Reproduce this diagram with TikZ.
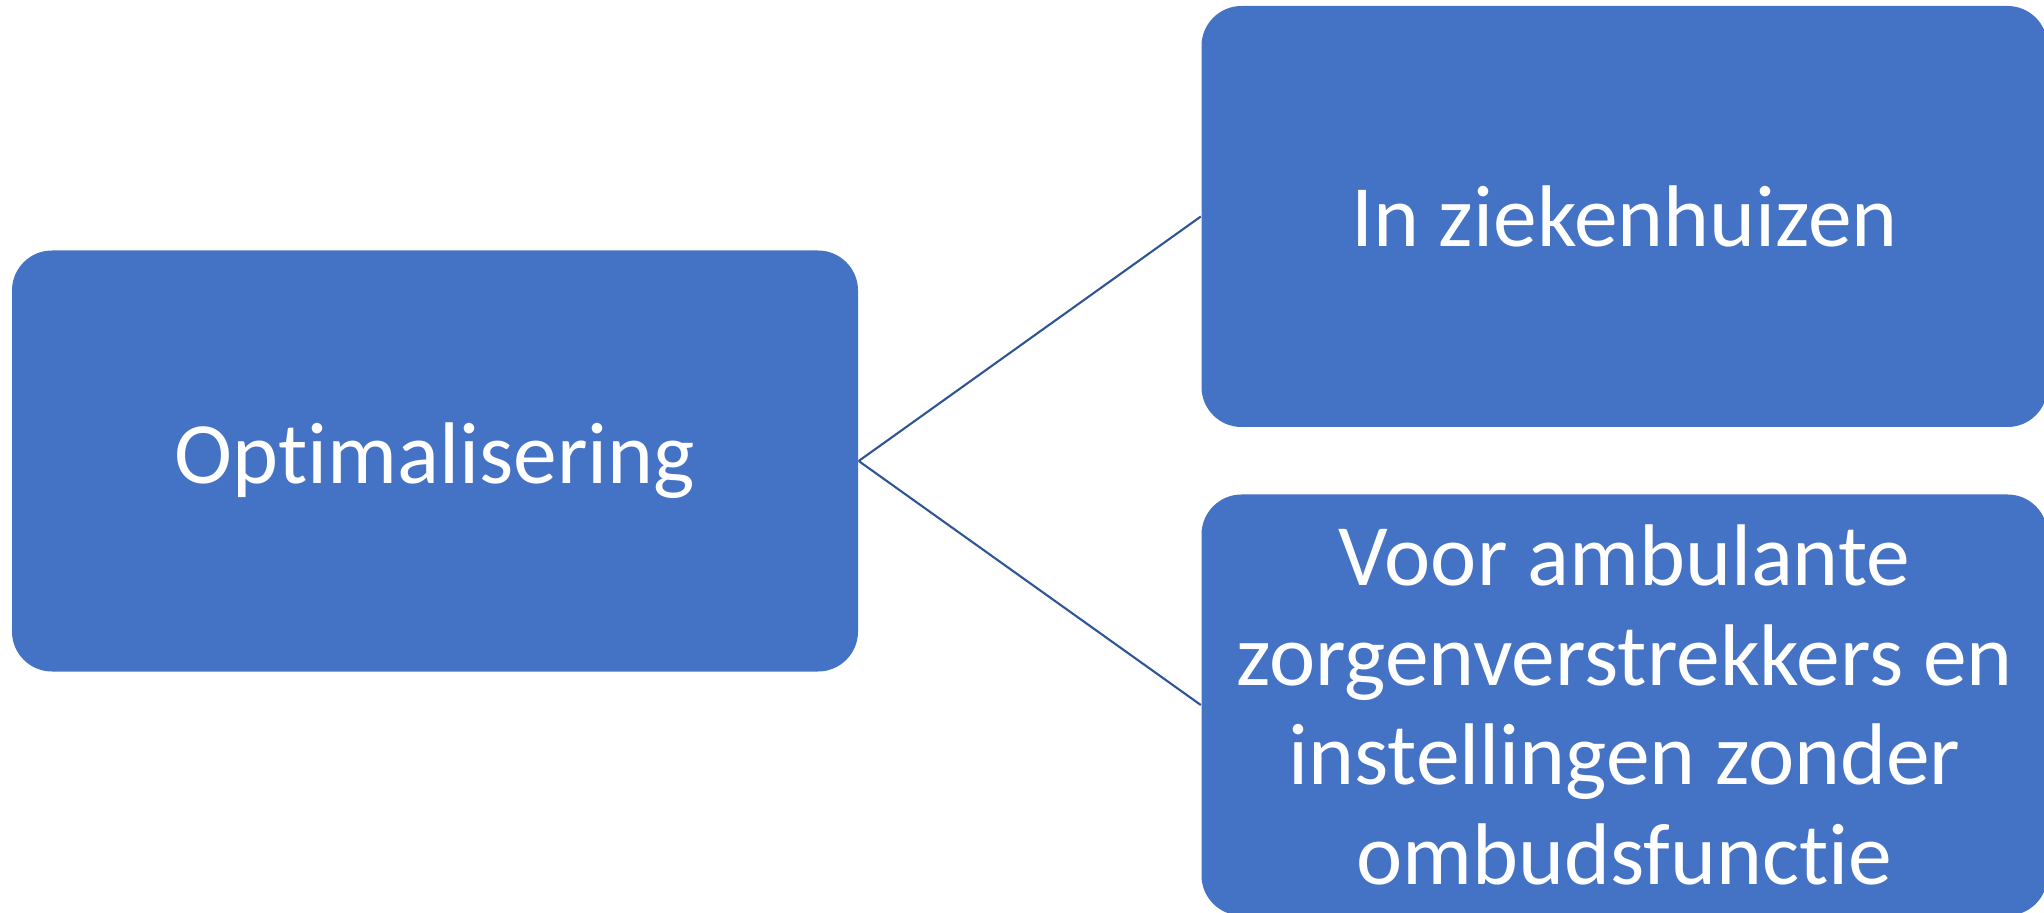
\documentclass[tikz,border=0pt]{standalone}
\usepackage{fontspec}
\setmainfont[Ligatures=NoCommon]{Carlito}
\definecolor{boxblue}{RGB}{68,114,196}
\definecolor{lineblue}{RGB}{47,85,151}
\begin{document}
\begin{tikzpicture}[
	box/.style={fill=boxblue, rounded corners=0.4cm, minimum width=8.46cm, minimum height=4.21cm,
		text=white, align=center, inner sep=0pt, font=\fontsize{24.9}{28.3}\selectfont},
	link/.style={draw=lineblue, line width=0.6pt}]
\useasboundingbox (0,0) rectangle (20.44,9.12);
% boxes
\node[box] (opt) at (4.35,4.51) {Optimalisering};
\node[box] (zkh) at (16.245,6.955) {In ziekenhuizen};
\node[box] (amb) at (16.245,2.07) {Voor ambulante\\zorgenverstrekkers en\\instellingen zonder\\ombudsfunctie};
% connectors
\draw[link] (opt.east)--(zkh.west);
\draw[link] (opt.east)--(amb.west);
\end{tikzpicture}
\end{document}
